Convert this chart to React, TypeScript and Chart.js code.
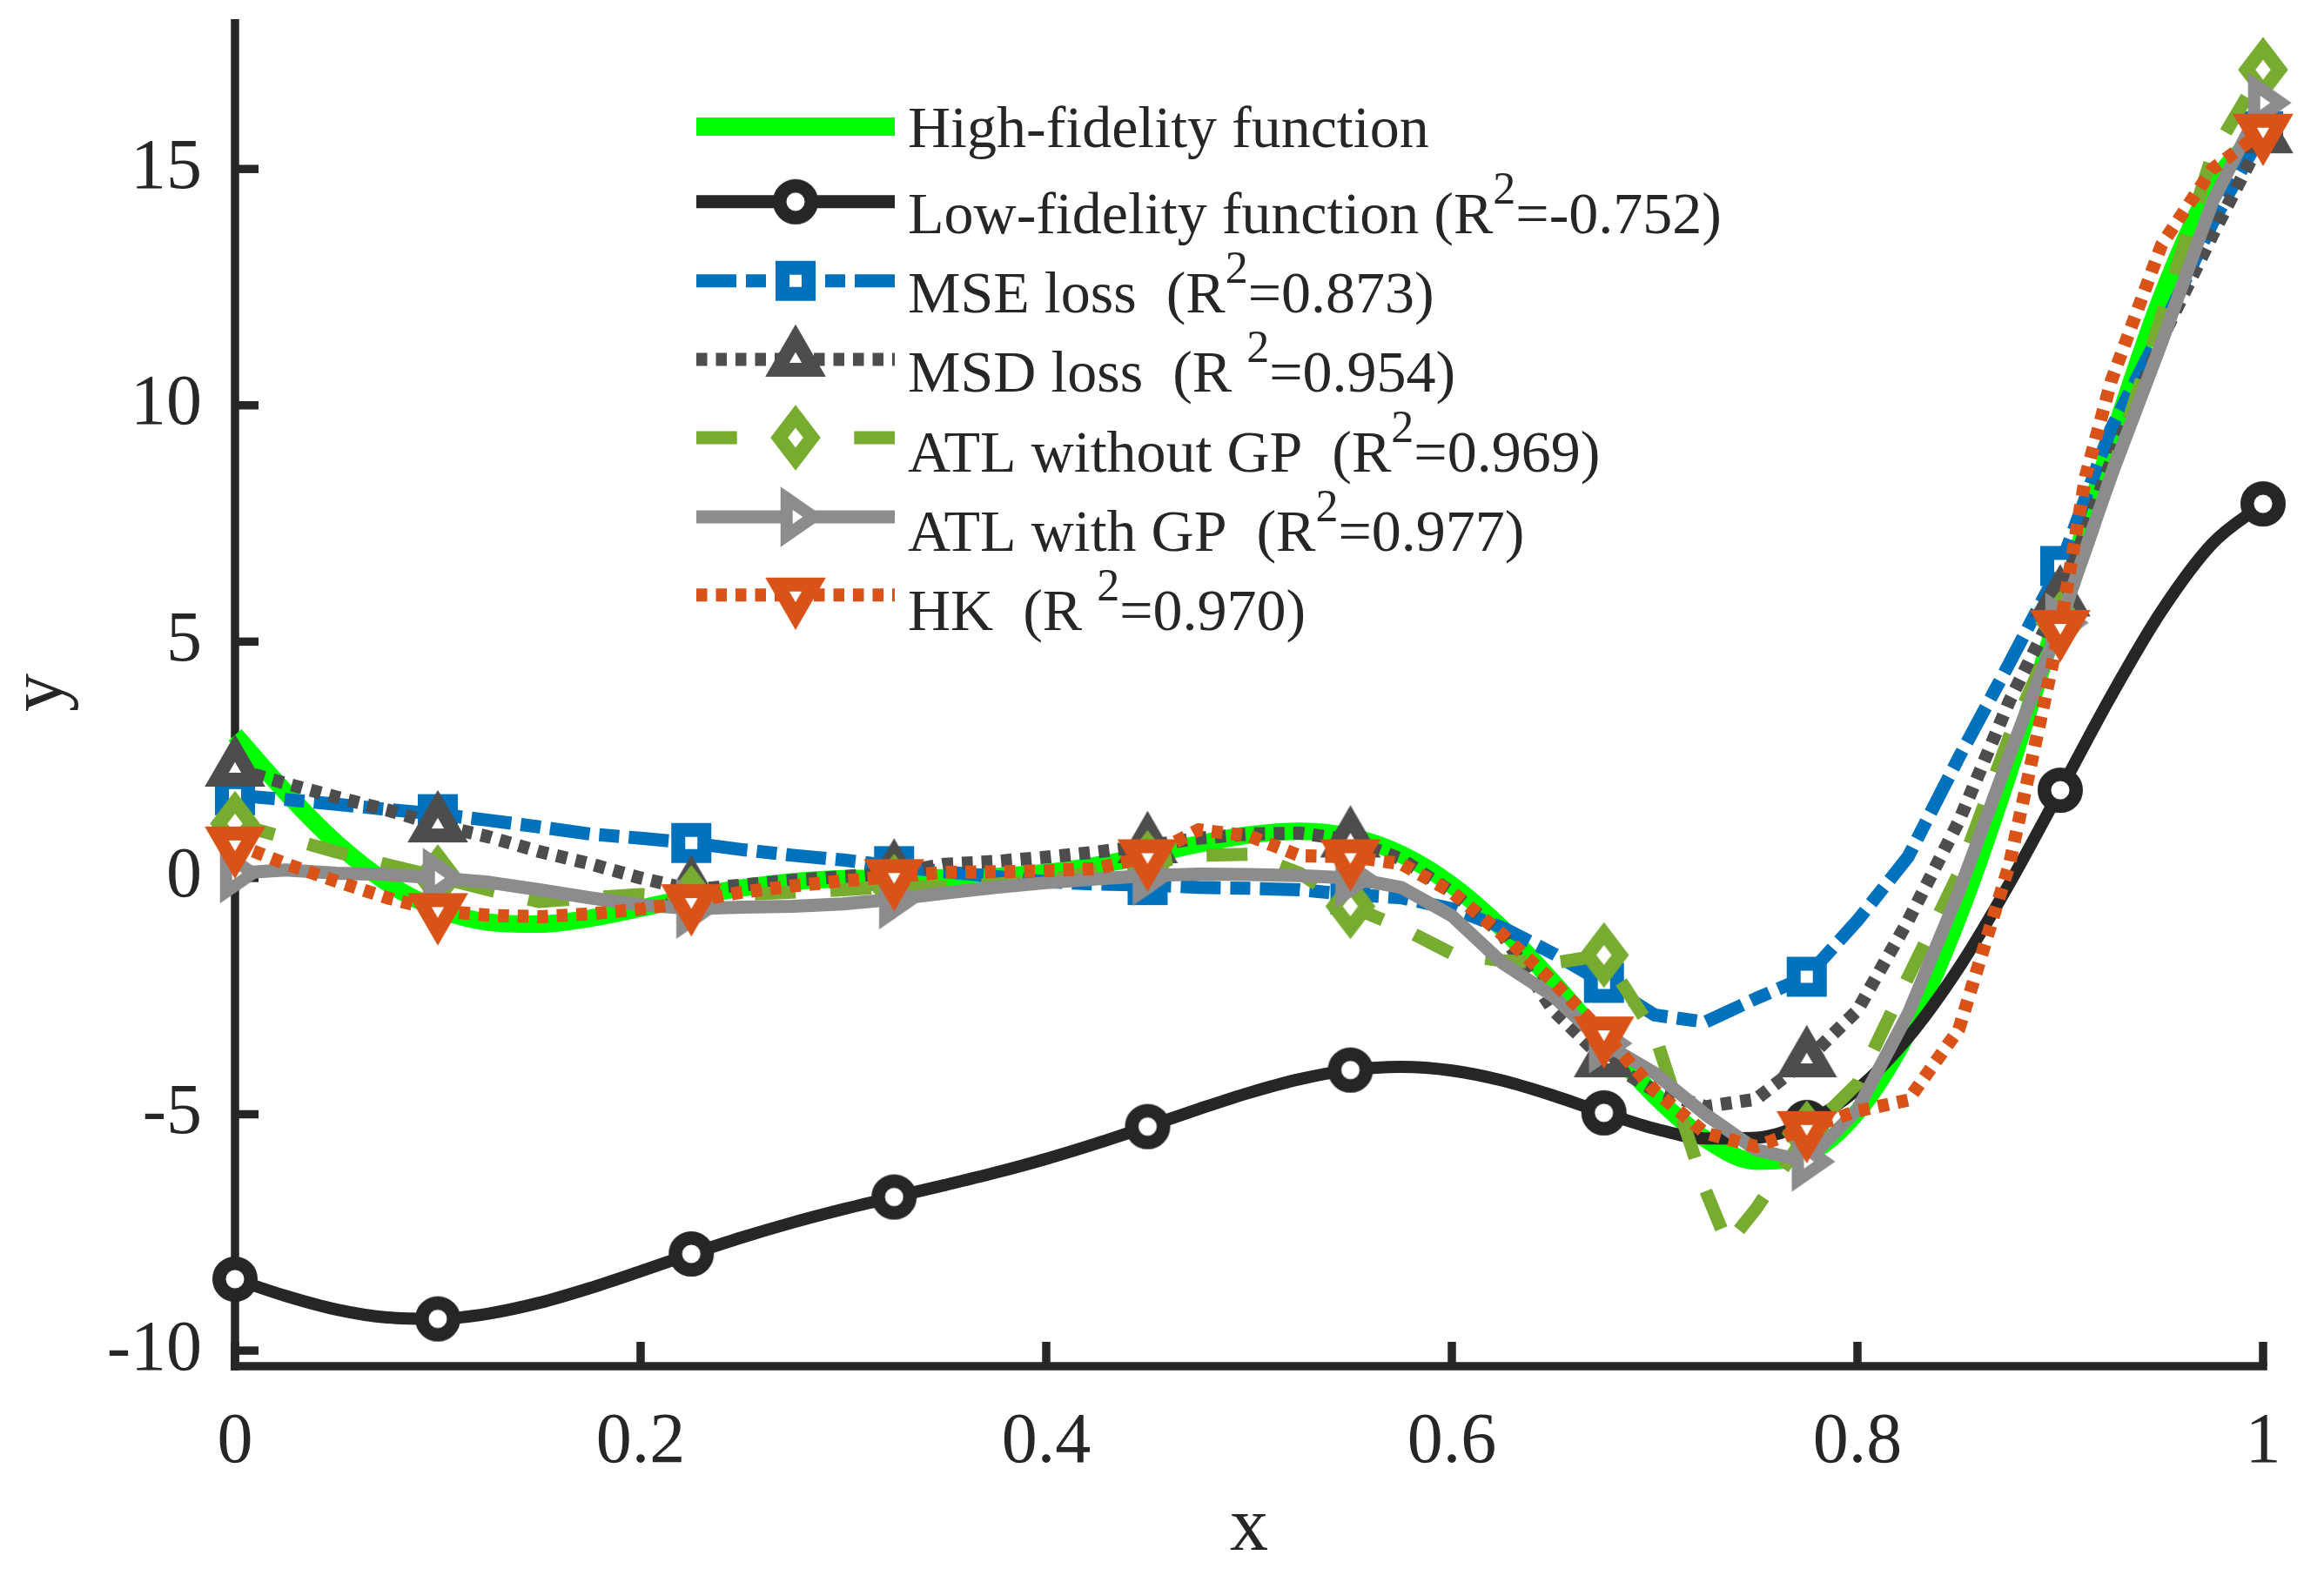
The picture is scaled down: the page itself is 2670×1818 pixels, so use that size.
import React, { useEffect, useRef } from "react";
import { Chart, registerables } from "chart.js";

Chart.register(...registerables);

// ---------- data ----------
const xGrid = [
  0, 0.025, 0.05, 0.075, 0.1, 0.125, 0.15, 0.175, 0.2, 0.225, 0.25, 0.275, 0.3, 0.325,
  0.35, 0.375, 0.4, 0.425, 0.45, 0.475, 0.5, 0.525, 0.55, 0.575, 0.6, 0.625, 0.65, 0.675,
  0.7, 0.725, 0.75, 0.775, 0.8, 0.825, 0.85, 0.875, 0.9, 0.925, 0.95, 0.975, 1,
];
const markerX = [0, 0.1, 0.225, 0.325, 0.45, 0.55, 0.675, 0.775, 0.9, 1];

const highFidelity = [
  3.027, 1.813, 0.738, -0.1, -0.657, -0.935, -0.978, -0.854, -0.64, -0.407, -0.21, -0.079,
  -0.016, 0.0, 0.002, 0.03, 0.115, 0.27, 0.483, 0.717, 0.909, 0.986, 0.871, 0.503, -0.149,
  -1.074, -2.209, -3.439, -4.606, -5.522, -5.993, -5.845, -4.949, -3.254, -0.799, 2.272,
  5.712, 9.187, 12.303, 14.648, 15.83,
];
const lowFidelity = [
  -8.487, -8.844, -9.131, -9.3, -9.328, -9.217, -8.989, -8.677, -8.32, -7.954, -7.605,
  -7.29, -7.008, -6.75, -6.499, -6.235, -5.943, -5.615, -5.259, -4.892, -4.546, -4.257,
  -4.064, -3.998, -4.075, -4.287, -4.604, -4.969, -5.303, -5.511, -5.496, -5.172, -4.474,
  -3.377, -1.9, -0.114, 1.856, 3.844, 5.651, 7.074, 7.915,
];
const mseLoss = [
  1.75, 1.66, 1.56, 1.45, 1.35, 1.22, 1.08, 0.93, 0.84, 0.74, 0.6, 0.48, 0.38, 0.25, 0.13,
  0.03, -0.08, -0.13, -0.15, -0.2, -0.22, -0.25, -0.35, -0.42, -0.65, -1.05, -1.6, -2.22,
  -2.9, -3.05, -2.55, -2.09, -0.9, 0.45, 2.55, 4.55, 6.6, 9.5, 11.6, 13.85, 15.8,
];
const msdLoss = [
  2.3, 2.0, 1.71, 1.44, 1.12, 0.87, 0.56, 0.3, 0.0, -0.25, -0.15, -0.05, 0.03, 0.1, 0.29,
  0.35, 0.44, 0.55, 0.68, 0.84, 0.93, 0.95, 0.8, 0.4, -0.3, -1.2, -2.8, -3.85, -4.5, -4.84,
  -4.68, -3.85, -2.8, -0.9, 1.2, 3.75, 5.9, 8.8, 11.4, 13.6, 15.7,
];
const atlNoGpX = [
  0, 0.025, 0.05, 0.075, 0.1, 0.125, 0.15, 0.175, 0.2, 0.225, 0.25, 0.275, 0.3, 0.325,
  0.35, 0.375, 0.4, 0.425, 0.45, 0.475, 0.5, 0.525, 0.55, 0.575, 0.6, 0.625, 0.65, 0.675,
  0.7, 0.725, 0.736, 0.75, 0.775, 0.8, 0.825, 0.85, 0.875, 0.9, 0.925, 0.95, 0.975, 1,
];
const atlNoGp = [
  1.15, 0.85, 0.55, 0.28, 0.02, -0.25, -0.5, -0.42, -0.35, -0.42, -0.35, -0.3, -0.25, -0.18,
  -0.2, -0.13, -0.05, 0.15, 0.32, 0.48, 0.5, 0.1, -0.6, -1.05, -1.6, -1.75, -1.8, -1.63,
  -3.3, -6.6, -7.75, -7.0, -5.4, -4.35, -2.1, 0.1, 3.0, 5.4, 8.5, 11.9, 15.3, 17.1,
];
const atlGp = [
  0.1, 0.17, 0.1, 0.07, 0.0, -0.09, -0.25, -0.42, -0.57, -0.65, -0.62, -0.6, -0.55, -0.45,
  -0.32, -0.2, -0.1, -0.02, 0.05, 0.08, 0.07, 0.05, 0.0, -0.2, -0.8, -1.8, -2.5, -3.5, -4.13,
  -5.0, -5.75, -6.0, -4.9, -2.87, -0.3, 2.6, 5.4, 8.5, 11.33, 14.3, 16.4,
];
const hkX = [
  0, 0.025, 0.05, 0.075, 0.1, 0.125, 0.15, 0.175, 0.2, 0.225, 0.25, 0.275, 0.3, 0.325,
  0.35, 0.375, 0.4, 0.425, 0.45, 0.475, 0.5, 0.525, 0.55, 0.575, 0.6, 0.625, 0.65, 0.675,
  0.7, 0.725, 0.75, 0.775, 0.8, 0.825, 0.85, 0.875, 0.9, 0.9125, 0.925, 0.95, 0.975, 1,
];
const hk = [
  0.72, 0.3, -0.07, -0.42, -0.69, -0.79, -0.82, -0.76, -0.66, -0.5, -0.3, -0.17, -0.06,
  0.03, 0.12, 0.13, 0.15, 0.2, 0.45, 1.02, 0.89, 0.47, 0.45, 0.3, -0.3, -1.2, -2.2, -3.3,
  -4.5, -5.4, -5.68, -5.3, -4.93, -4.7, -3.2, 0.3, 5.3, 8.5, 10.5, 13.4, 15.0, 15.8,
];

const xTicks = [0, 0.2, 0.4, 0.6, 0.8, 1];
const xTickLabels = ["0", "0.2", "0.4", "0.6", "0.8", "1"];
const yTicks = [-10, -5, 0, 5, 10, 15];
const yTickLabels = ["-10", "-5", "0", "5", "10", "15"];

const legendText: [string, string, string][] = [
  ["High-fidelity function", "", ""],
  ["Low-fidelity function (R", "2", "=-0.752)"],
  ["MSE loss  (R", "2", "=0.873)"],
  ["MSD loss  (R ", "2", "=0.954)"],
  ["ATL without GP  (R", "2", "=0.969)"],
  ["ATL with GP  (R", "2", "=0.977)"],
  ["HK  (R ", "2", "=0.970)"],
];

// ---------- styles ----------
const FONT = "'Liberation Serif', 'Times New Roman', serif";
const INK = "#262626";

type Style = {
  color: string;
  width: number;
  legendWidth: number;
  dash: number[];
  marker: string | null;
  smooth: boolean;
};
const styles: Style[] = [
  { color: "#00ff00", width: 20, legendWidth: 21, dash: [], marker: null, smooth: true },
  { color: "#262626", width: 14, legendWidth: 15, dash: [], marker: "circle", smooth: true },
  { color: "#0072bd", width: 15, legendWidth: 15, dash: [46, 11, 23, 11], marker: "square", smooth: false },
  { color: "#4d4d4d", width: 15, legendWidth: 15, dash: [12.5, 10], marker: "triUp", smooth: false },
  { color: "#77ac30", width: 15, legendWidth: 15, dash: [47, 40], marker: "diamond", smooth: false },
  { color: "#8c8c8c", width: 15, legendWidth: 15, dash: [], marker: "triRight", smooth: false },
  { color: "#d95319", width: 15, legendWidth: 15, dash: [12.5, 10], marker: "triDown", smooth: false },
];

const legendLineY = [145.6, 231.8, 322.7, 412.9, 503, 594, 683.7];
const legendBaseY = [169, 268, 359, 450, 542, 633, 724];

function makeMarker(shape: string, color: string): HTMLCanvasElement {
  const c = document.createElement("canvas");
  c.width = 100;
  c.height = 100;
  const g = c.getContext("2d")!;
  g.translate(50, 50);
  g.beginPath();
  let lw = 16;
  switch (shape) {
    case "circle":
      g.arc(0, 0, 18.25, 0, Math.PI * 2);
      lw = 15.5;
      break;
    case "square":
      g.rect(-15, -15, 30, 30);
      break;
    case "triUp":
      g.moveTo(0, -24.2);
      g.lineTo(20.96, 12.1);
      g.lineTo(-20.96, 12.1);
      g.closePath();
      break;
    case "triDown":
      g.moveTo(0, 24.2);
      g.lineTo(20.96, -12.1);
      g.lineTo(-20.96, -12.1);
      g.closePath();
      break;
    case "diamond":
      g.moveTo(0, -24.6);
      g.lineTo(18.75, 0);
      g.lineTo(0, 24.6);
      g.lineTo(-18.75, 0);
      g.closePath();
      break;
    case "triRight":
      g.moveTo(-10.27, -21.45);
      g.lineTo(20.53, 0);
      g.lineTo(-10.27, 21.45);
      g.closePath();
      lw = 14;
      break;
  }
  g.fillStyle = "#ffffff";
  g.fill();
  g.lineJoin = "miter";
  g.miterLimit = 10;
  g.lineWidth = lw;
  g.strokeStyle = color;
  g.stroke();
  return c;
}

const isMarker = (x: number) => markerX.some((m) => Math.abs(m - x) < 1e-6);

const zeroPadding = (s: any) => {
  s.paddingTop = 0;
  s.paddingBottom = 0;
  s.paddingLeft = 0;
  s.paddingRight = 0;
};

export default function App() {
  const ref = useRef<HTMLCanvasElement>(null);

  useEffect(() => {
    const canvas = ref.current;
    if (!canvas) return;

    const markerImgs = styles.map((s) => (s.marker ? makeMarker(s.marker, s.color) : null));

    const seriesXs = [xGrid, xGrid, xGrid, xGrid, atlNoGpX, xGrid, hkX];
    const seriesYs = [highFidelity, lowFidelity, mseLoss, msdLoss, atlNoGp, atlGp, hk];
    const names = legendText.map((t) => t.join(""));

    const datasets = seriesYs.map((ys, si) => {
      const xs = seriesXs[si];
      const s = styles[si];
      const radii = xs.map((x) => (s.marker && isMarker(x) ? 20 : 0));
      return {
        label: names[si],
        data: ys.map((y, i) => ({ x: xs[i], y })),
        borderColor: s.color,
        backgroundColor: s.color,
        borderWidth: s.width,
        borderDash: s.dash,
        borderCapStyle: "butt" as const,
        borderJoinStyle: "round" as const,
        cubicInterpolationMode: s.smooth ? ("monotone" as const) : ("default" as const),
        tension: 0,
        fill: false,
        clip: false as any,
        order: 7 - si,
        pointStyle: (markerImgs[si] || "circle") as any,
        pointRadius: radii,
        pointHoverRadius: radii,
        pointBorderWidth: 0,
      };
    });

    const axesPlugin = {
      id: "matlabAxes",
      beforeDatasetsDraw(chart: any) {
        const { ctx, chartArea } = chart;
        const { left, right, top, bottom } = chartArea;
        const xs = chart.scales.x;
        const ys = chart.scales.y;
        const w = 9.5;
        ctx.save();
        ctx.fillStyle = INK;
        ctx.fillRect(left - w / 2, top, w, bottom + w / 2 - top);
        ctx.fillRect(left - w / 2, bottom - w / 2, right + w / 2 - (left - w / 2), w);
        for (const v of yTicks) {
          const py = ys.getPixelForValue(v);
          ctx.fillRect(left, py - w / 2, 27, w);
        }
        for (const v of xTicks) {
          const px = xs.getPixelForValue(v);
          ctx.fillRect(px - w / 2, bottom - 28, w, 28);
        }
        ctx.restore();
      },
    };

    const legendPlugin = {
      id: "matlabLegend",
      afterDatasetsDraw(chart: any) {
        const ctx = chart.ctx as CanvasRenderingContext2D;
        ctx.save();
        styles.forEach((s, i) => {
          const cy = legendLineY[i];
          ctx.strokeStyle = s.color;
          ctx.lineWidth = s.legendWidth;
          ctx.lineCap = "butt";
          ctx.beginPath();
          if (i === 4) {
            ctx.setLineDash([]);
            ctx.moveTo(800, cy);
            ctx.lineTo(846.7, cy);
            ctx.moveTo(981.3, cy);
            ctx.lineTo(1028, cy);
          } else {
            ctx.setLineDash(s.dash);
            ctx.moveTo(800, cy);
            ctx.lineTo(1028, cy);
          }
          ctx.stroke();
          ctx.setLineDash([]);
          const img = markerImgs[i];
          if (img) ctx.drawImage(img, 914 - 50, cy - 50);

          const [a, sup, b] = legendText[i];
          const base = legendBaseY[i];
          ctx.fillStyle = INK;
          ctx.textAlign = "left";
          ctx.textBaseline = "alphabetic";
          ctx.font = `68px ${FONT}`;
          let tx = 1043;
          ctx.fillText(a, tx, base);
          tx += ctx.measureText(a).width;
          if (sup) {
            ctx.font = `52px ${FONT}`;
            ctx.fillText(sup, tx, base - 34);
            tx += ctx.measureText(sup).width;
            ctx.font = `68px ${FONT}`;
            ctx.fillText(b, tx, base);
          }
        });
        ctx.restore();
      },
    };

    const chart = new Chart(canvas, {
      type: "line",
      data: { datasets: datasets as any },
      options: {
        responsive: false,
        animation: false,
        devicePixelRatio: 1,
        events: [],
        layout: { padding: { left: 0, right: 70, top: 22, bottom: 0 } },
        plugins: {
          legend: { display: false },
          tooltip: { enabled: false },
          title: { display: false },
        },
        scales: {
          x: {
            type: "linear",
            min: 0,
            max: 1,
            grid: { display: false },
            border: { display: false },
            afterBuildTicks: (s: any) => {
              s.ticks = xTicks.map((v) => ({ value: v }));
            },
            afterFit: (s: any) => {
              s.height = 248;
              zeroPadding(s);
            },
            ticks: {
              autoSkip: false,
              maxRotation: 0,
              minRotation: 0,
              padding: 31,
              color: INK,
              font: { family: FONT, size: 82, lineHeight: 1.2 },
              callback: (v: any) => {
                const i = xTicks.findIndex((t) => Math.abs(t - Number(v)) < 1e-9);
                return i >= 0 ? xTickLabels[i] : "";
              },
            },
            title: {
              display: true,
              text: "x",
              color: INK,
              font: { family: FONT, size: 88, lineHeight: 1 },
              padding: { top: 0, bottom: 16 },
            },
          },
          y: {
            type: "linear",
            min: -10.33,
            max: 18.17,
            grid: { display: false },
            border: { display: false },
            afterBuildTicks: (s: any) => {
              s.ticks = yTicks.map((v) => ({ value: v }));
            },
            afterFit: (s: any) => {
              s.width = 270;
              zeroPadding(s);
            },
            ticks: {
              autoSkip: false,
              padding: 30,
              color: INK,
              font: { family: FONT, size: 82, lineHeight: 1.2 },
              callback: (v: any) => {
                const i = yTicks.findIndex((t) => Math.abs(t - Number(v)) < 1e-9);
                return i >= 0 ? yTickLabels[i] : "";
              },
            },
            title: {
              display: true,
              text: "y",
              color: INK,
              font: { family: FONT, size: 88, lineHeight: 1 },
              padding: { top: 3.5, bottom: 0 },
            },
          },
        },
      } as any,
      plugins: [axesPlugin, legendPlugin],
    });

    return () => chart.destroy();
  }, []);

  return (
    <div style={{ position: "absolute", left: 0, top: 0, width: 2670, height: 1818, background: "#ffffff" }}>
      <canvas ref={ref} width={2670} height={1818} style={{ width: 2670, height: 1818, display: "block" }} />
    </div>
  );
}
